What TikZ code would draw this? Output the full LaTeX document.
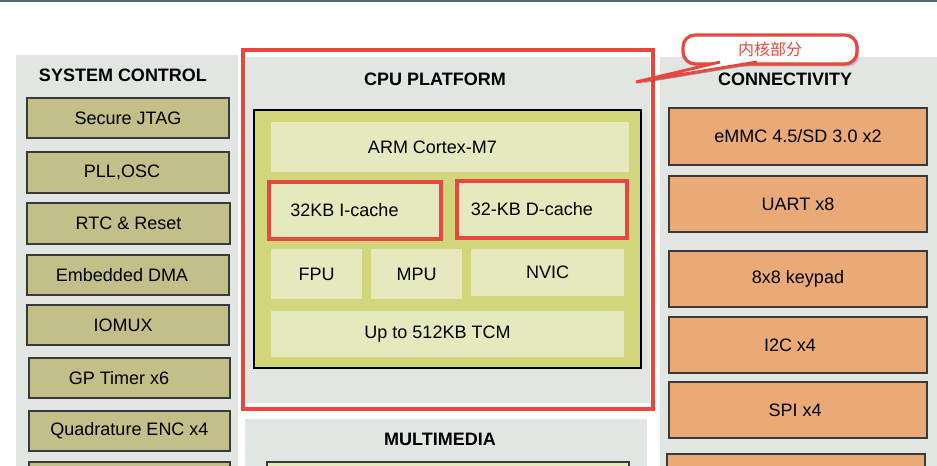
\documentclass[tikz,border=0pt]{standalone}
\usepackage{fontspec}
\setmainfont{Liberation Sans}
\newfontfamily\cjk{Noto Sans CJK SC}
\usetikzlibrary{shadows}

\definecolor{panelgray}{HTML}{E2E6E2}
\definecolor{sysolive}{HTML}{C2BF88}
\definecolor{cpugreen}{HTML}{D2D67B}
\definecolor{cpulight}{HTML}{E6E9BD}
\definecolor{conorange}{HTML}{EAAA77}
\definecolor{hired}{HTML}{E8473F}
\definecolor{boxline}{HTML}{3A3A3A}
\definecolor{topbar}{HTML}{56677A}

\newcommand\blkfont{\fontsize{13.5}{16}\selectfont}
% block from (x1,y1) to (x2,y2), pixel units
\newcommand\Blk[7][]{%
  \node[#1, minimum width={(#5-#3)*0.75pt}, minimum height={(#6-#4)*0.75pt}]
    (#2) at ({(#3+#5)/2},{(#4+#6)/2}) {#7};}
\newcommand\lft[2]{\hspace*{-#1pt}#2} % nudge text left

\tikzset{
  panel/.style={fill=panelgray, inner sep=0pt},
  title/.style={font=\blkfont\bfseries},
  sysbox/.style={draw=boxline, line width=1.1pt, fill=sysolive},
  conbox/.style={draw=boxline, line width=1.1pt, fill=conorange},
  cpucore/.style={draw=black, line width=0.8pt, fill=cpugreen},
  cpubox/.style={fill=cpulight},
  cache/.style={cpubox, draw=hired, line width=2.3pt},
  redframe/.style={draw=hired, line width=2.3pt},
  mmbox/.style={draw=boxline, line width=1pt, fill=cpulight},
  bubble/.style={draw=hired, line width=2.4pt, fill=white, rounded corners=9pt,
    text=hired, drop shadow={shadow xshift=2pt, shadow yshift=-2pt, opacity=0.35}},
}

\begin{document}
\begin{tikzpicture}[x=0.75pt, y=-0.75pt, font=\blkfont]
\useasboundingbox (0,0) rectangle (937,465);
\clip (0,0) rectangle (937,465);
\fill[topbar] (0,0) rectangle (937,2);

% system control
\Blk[panel]{sysctl}{16}{55}{238}{490}{}
\node[title] (systitle) at (123,75) {SYSTEM CONTROL};
\Blk[sysbox]{jtag}{27}{98}{229}{138}{Secure JTAG}
\Blk[sysbox]{pll}{27}{152}{229}{193}{\lft{9}{PLL,OSC}}
\Blk[sysbox]{rtc}{27}{203}{230}{244}{RTC \& Reset}
\Blk[sysbox]{dma}{27}{255}{229}{295}{\lft{9}{Embedded DMA}}
\Blk[sysbox]{iomux}{27}{305}{229}{345}{\lft{7.5}{IOMUX}}
\Blk[sysbox]{gpt}{29}{358}{230}{398}{\lft{15.75}{GP Timer x6}}
\Blk[sysbox]{enc}{29}{411}{230}{451}{Quadrature ENC x4}
\Blk[sysbox]{sysmore}{29}{462}{230}{500}{}

% cpu platform
\Blk[panel]{cpu}{246}{57}{650}{403}{}
\Blk[redframe]{cpuframe}{243}{50}{653}{409}{}
\node[title] (cputitle) at (435,79) {CPU PLATFORM};
\Blk[cpucore]{core}{254}{110}{641}{368}{}
\Blk[cpubox]{arm}{271}{122}{629}{172}{\lft{26.25}{ARM Cortex-M7}}
\Blk[cache]{icache}{269}{182}{441}{239}{\lft{15.75}{32KB I-cache}}
\Blk[cache]{dcache}{457}{181}{627}{238}{\lft{15}{32-KB D-cache}}
\Blk[cpubox]{fpu}{271}{249}{362}{299}{FPU}
\Blk[cpubox]{mpu}{371}{249}{462}{299}{MPU}
\Blk[cpubox]{nvic}{471}{249}{624}{296}{NVIC}
\Blk[cpubox]{tcm}{271}{311}{624}{357}{\lft{15}{Up to 512KB TCM}}

% multimedia
\Blk[panel]{mm}{245}{419}{647}{490}{}
\node[title] (mmtitle) at (440,439) {MULTIMEDIA};
\Blk[mmbox]{mminner}{267}{462}{629}{500}{}

% connectivity
\Blk[panel]{conn}{660}{57}{960}{490}{}
\node[title] (conntitle) at (785,79) {CONNECTIVITY};
\Blk[conbox]{emmc}{669}{108}{927}{165}{eMMC 4.5/SD 3.0 x2}
\Blk[conbox]{uart}{669}{176}{927}{232}{UART x8}
\Blk[conbox]{keypad}{669}{251}{927}{307}{8x8 keypad}
\Blk[conbox]{iic}{669}{317}{927}{373}{\lft{12}{I2C x4}}
\Blk[conbox]{spi}{669}{382}{927}{438}{\lft{4.5}{SPI x4}}
\Blk[conbox]{connmore}{667}{454}{925}{500}{}

% callout
\coordinate (tip) at (636,82);
\coordinate (wa) at (720,62);
\coordinate (wb) at (757,62);
\fill[black, opacity=0.3] ([shift={(2,2)}]wa) -- ([shift={(2,2)}]tip) -- ([shift={(2,2)}]wb) -- cycle;
\Blk[bubble]{note}{683}{35}{857}{64}{\cjk\fontsize{12}{14}\selectfont 内核部分}
\fill[white] (wa) -- (tip) -- (wb) -- cycle;
\draw[hired, line width=2.2pt] (wa) -- (tip) -- (wb);

\end{tikzpicture}
\end{document}
